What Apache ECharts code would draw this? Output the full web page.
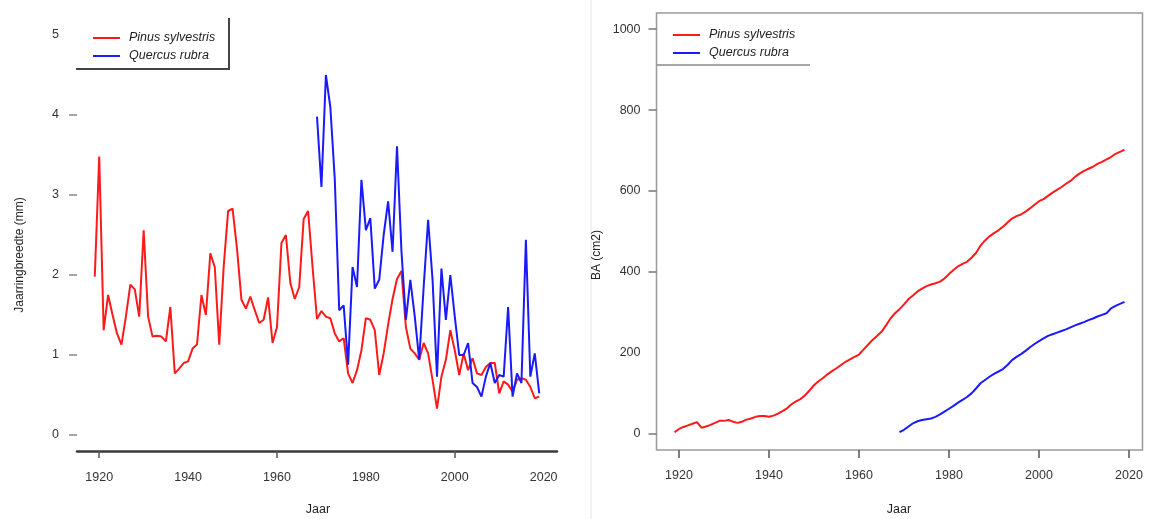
<!DOCTYPE html>
<html>
<head>
<meta charset="utf-8">
<script src="https://cdn.jsdelivr.net/npm/echarts@6/dist/echarts.min.js"></script>
<style>
  html, body { margin: 0; padding: 0; background: #ffffff; }
  #chart { width: 1149px; height: 519px; }
</style>
</head>
<body>
<div id="chart"></div>
<script>
// Ring width (mm) per year
const pinusStartYear = 1919;
const pinusRingWidth = [
  1.98, 3.48, 1.31, 1.75, 1.50, 1.27, 1.13, 1.48, 1.88, 1.82,
  1.48, 2.56, 1.48, 1.23, 1.24, 1.23, 1.17, 1.60, 0.77, 0.83,
  0.90, 0.92, 1.08, 1.13, 1.75, 1.50, 2.27, 2.10, 1.13, 2.10,
  2.80, 2.83, 2.33, 1.69, 1.58, 1.73, 1.56, 1.40, 1.44, 1.72,
  1.15, 1.35, 2.40, 2.50, 1.90, 1.70, 1.85, 2.70, 2.80, 2.10,
  1.45, 1.55, 1.48, 1.46, 1.27, 1.17, 1.21, 0.77, 0.65, 0.81,
  1.06, 1.46, 1.44, 1.31, 0.75, 1.02, 1.38, 1.70, 1.95, 2.05,
  1.35, 1.08, 1.02, 0.94, 1.15, 1.02, 0.69, 0.33, 0.73, 0.94,
  1.31, 1.06, 0.75, 1.02, 0.81, 0.96, 0.77, 0.75, 0.85, 0.90,
  0.90, 0.52, 0.67, 0.63, 0.54, 0.69, 0.71, 0.69, 0.60, 0.46,
  0.48
];
const quercusStartYear = 1969;
const quercusRingWidth = [
  3.98, 3.10, 4.50, 4.10, 3.20, 1.56, 1.62, 0.88, 2.10, 1.85,
  3.19, 2.56, 2.71, 1.83, 1.94, 2.50, 2.92, 2.29, 3.61, 2.30,
  1.44, 1.94, 1.48, 0.94, 1.85, 2.69, 1.94, 0.73, 2.08, 1.44,
  2.00, 1.48, 1.00, 1.00, 1.15, 0.65, 0.60, 0.48, 0.73, 0.90,
  0.65, 0.75, 0.73, 1.60, 0.48, 0.77, 0.65, 2.44, 0.73, 1.02,
  0.52
];

// Basal area (cm2) per year
const pinusBasalArea = [
  4, 12, 17, 21, 25, 29, 15, 18, 22, 27,
  32, 32, 34, 30, 27, 30, 35, 38, 42, 44,
  44, 42, 45, 50, 56, 63, 73, 80, 86, 95,
  107, 120, 130, 138, 147, 155, 162, 170, 178, 184,
  190, 196, 208, 220, 232, 242, 252, 268, 285, 298,
  308, 320, 333, 342, 352, 359, 365, 369, 372, 376,
  384, 395, 405, 414, 420, 425, 435, 447, 465, 478,
  488, 496, 503, 512, 522, 532, 538, 542, 549, 557,
  566, 575, 580, 588, 596, 603, 610, 618, 625, 635,
  643, 650, 655, 660, 667, 672, 678, 684, 692, 697,
  702
];
const quercusBasalArea = [
  4, 10, 18, 26, 31, 34, 36, 38, 42, 48,
  55, 62, 69, 77, 84, 91, 100, 112, 125, 133,
  141, 148, 154, 160, 170, 182, 190, 197, 205, 214,
  222, 229, 236, 242, 246, 250, 254, 258, 263, 268,
  272, 276, 281, 285, 290, 294, 298, 310, 316, 321,
  326
];

const yearTicks = [1920, 1940, 1960, 1980, 2000, 2020];
const widthTicks = [0, 1, 2, 3, 4, 5];
const areaTicks = [0, 200, 400, 600, 800, 1000];
const speciesNames = ['Pinus sylvestris', 'Quercus rubra'];

function pairs(startYear, values) {
  return values.map((v, i) => [startYear + i, v]);
}
const plain = v => String(v);

const FONT = "'Liberation Sans', Arial, sans-serif";
const RED = '#ff1a1a';
const BLUE = '#1a1aff';

const chart = echarts.init(document.getElementById('chart'), null, { renderer: 'canvas' });

const xAxisBase = {
  type: 'value',
  min: 1915,
  max: 2023,
  splitLine: { show: false },
  axisLabel: {
    customValues: yearTicks,
    formatter: plain,
    color: '#333',
    fontFamily: FONT,
    fontSize: 12.5
  }
};

chart.setOption({
  animation: false,
  backgroundColor: '#ffffff',
  grid: [
    { left: 77, top: 19, right: 592, bottom: 68 },
    { left: 656.5, top: 13, right: 6.5, bottom: 69, show: true,
      borderColor: '#9a9a9a', borderWidth: 1.5, backgroundColor: 'transparent' }
  ],
  xAxis: [
    Object.assign({}, xAxisBase, {
      gridIndex: 0,
      axisLine: { show: true, onZero: false, lineStyle: { color: '#3a3a3a', width: 2.5 } },
      axisTick: { show: true, customValues: [1920, 1960, 2000], length: 7,
        lineStyle: { color: '#555', width: 1.5 } },
      axisLabel: Object.assign({}, xAxisBase.axisLabel, { margin: 20 })
    }),
    Object.assign({}, xAxisBase, {
      gridIndex: 1,
      axisLine: { show: false, onZero: false },
      axisTick: { show: true, customValues: yearTicks, length: 8,
        lineStyle: { color: '#555', width: 1.5 } },
      axisLabel: Object.assign({}, xAxisBase.axisLabel, { margin: 19 })
    })
  ],
  yAxis: [
    {
      type: 'value', gridIndex: 0, min: -0.2, max: 5.2,
      splitLine: { show: false },
      axisLine: { show: false },
      axisTick: { show: true, customValues: [0, 1, 2, 3, 4], length: 8,
        lineStyle: { color: '#888', width: 1.5 } },
      axisLabel: { customValues: widthTicks, formatter: plain, margin: 18, color: '#333',
        fontFamily: FONT, fontSize: 12.5 }
    },
    {
      type: 'value', gridIndex: 1, min: -40, max: 1040,
      splitLine: { show: false },
      axisLine: { show: false },
      axisTick: { show: true, customValues: [0, 400, 600, 800, 1000], length: 8,
        lineStyle: { color: '#777', width: 1.5 } },
      axisLabel: { customValues: areaTicks, formatter: plain, margin: 16, color: '#333',
        fontFamily: FONT, fontSize: 12.5 }
    }
  ],
  legend: [
    {
      data: speciesNames, orient: 'vertical', left: 88, top: 26,
      itemWidth: 27, itemHeight: 2, itemGap: 4, icon: 'rect',
      selectedMode: false,
      textStyle: { fontFamily: FONT, fontSize: 12.5, fontStyle: 'italic',
        color: '#222', lineHeight: 14, padding: [0, 0, 0, 4] }
    },
    {
      data: speciesNames, orient: 'vertical', left: 668, top: 23,
      itemWidth: 27, itemHeight: 2, itemGap: 4, icon: 'rect',
      selectedMode: false,
      textStyle: { fontFamily: FONT, fontSize: 12.5, fontStyle: 'italic',
        color: '#222', lineHeight: 14, padding: [0, 0, 0, 4] }
    }
  ],
  series: [
    { name: speciesNames[0], type: 'line', xAxisIndex: 0, yAxisIndex: 0,
      data: pairs(pinusStartYear, pinusRingWidth), showSymbol: false,
      lineStyle: { color: RED, width: 2 }, itemStyle: { color: RED } },
    { name: speciesNames[1], type: 'line', xAxisIndex: 0, yAxisIndex: 0,
      data: pairs(quercusStartYear, quercusRingWidth), showSymbol: false,
      lineStyle: { color: BLUE, width: 2 }, itemStyle: { color: BLUE } },
    { name: speciesNames[0], type: 'line', xAxisIndex: 1, yAxisIndex: 1,
      data: pairs(pinusStartYear, pinusBasalArea), showSymbol: false,
      lineStyle: { color: RED, width: 2 }, itemStyle: { color: RED } },
    { name: speciesNames[1], type: 'line', xAxisIndex: 1, yAxisIndex: 1,
      data: pairs(quercusStartYear, quercusBasalArea), showSymbol: false,
      lineStyle: { color: BLUE, width: 2 }, itemStyle: { color: BLUE } }
  ],
  graphic: [
    // divider between the two panels
    { type: 'line', shape: { x1: 591, y1: 0, x2: 591, y2: 519 },
      style: { stroke: '#e6e6e6', lineWidth: 1 } },
    // legend box edges, left panel
    { type: 'polyline', shape: { points: [[229, 18], [229, 69], [76, 69]] },
      style: { stroke: '#444', lineWidth: 2, fill: null } },
    // legend box edge, right panel
    { type: 'line', shape: { x1: 657, y1: 65, x2: 810, y2: 65 },
      style: { stroke: '#8a8a8a', lineWidth: 1.5 } },
    // axis titles
    { type: 'text', x: 318, y: 510,
      style: { text: 'Jaar', font: "12.5px 'Liberation Sans', Arial", fill: '#222',
        align: 'center', verticalAlign: 'middle' } },
    { type: 'text', x: 899, y: 510,
      style: { text: 'Jaar', font: "12.5px 'Liberation Sans', Arial", fill: '#222',
        align: 'center', verticalAlign: 'middle' } },
    { type: 'text', x: 20, y: 255, rotation: Math.PI / 2,
      style: { text: 'Jaarringbreedte (mm)', font: "12px 'Liberation Sans', Arial", fill: '#222',
        align: 'center', verticalAlign: 'middle' } },
    { type: 'text', x: 597, y: 255, rotation: Math.PI / 2,
      style: { text: 'BA (cm2)', font: "12px 'Liberation Sans', Arial", fill: '#222',
        align: 'center', verticalAlign: 'middle' } }
  ]
});
</script>
</body>
</html>
